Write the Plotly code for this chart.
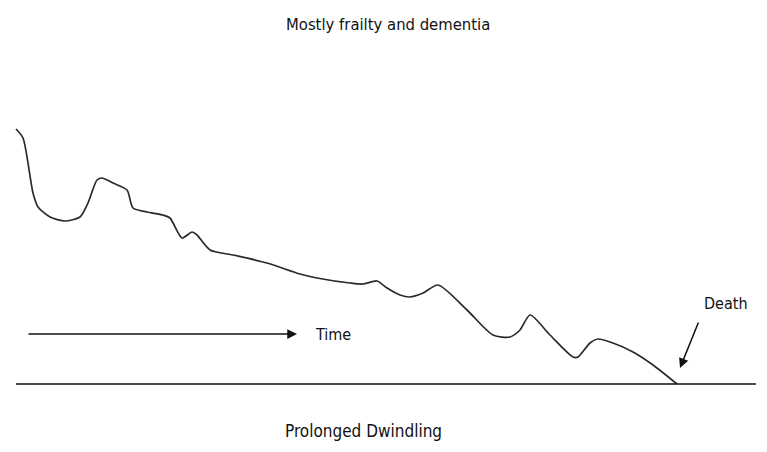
import plotly.graph_objects as go

# Trajectory of function over time (x: time units, y: function level above the death baseline)
time_x = [16, 23, 33, 38, 50, 65, 80, 88, 97, 102, 113, 127, 133, 147, 163, 170, 182, 192, 197,
          210, 233, 267, 300, 317, 350, 363, 377, 387, 400, 410, 423, 438, 467, 493, 510, 520,
          530, 550, 573, 578, 590, 598, 613, 633, 653, 677]
function_y = [255, 246, 191, 177, 167, 163, 167, 181, 204, 206, 201, 194, 176, 172, 169, 166, 146,
              152, 149, 134, 129, 121, 110, 106, 101, 100, 103, 96, 89, 87, 91, 99, 74, 49, 47, 54,
              69, 49, 27, 27, 41, 45, 41, 32, 19, 0]

baseline_x = [16, 756]
baseline_y = [0, 0]

title_text = "Mostly frailty and dementia"
bottom_text = "Prolonged Dwindling"
time_label = "Time"
death_label = "Death"

FONT = "DejaVu Sans Condensed, Liberation Sans Narrow, sans-serif"
TEXT_COLOR = "#111111"

fig = go.Figure()
fig.add_trace(go.Scatter(x=time_x, y=function_y, mode="lines",
                         line=dict(color="#2a2a2a", width=1.7, shape="spline", smoothing=0.7),
                         hoverinfo="skip", showlegend=False))
fig.add_trace(go.Scatter(x=baseline_x, y=baseline_y, mode="lines",
                         line=dict(color="#111111", width=1.7),
                         hoverinfo="skip", showlegend=False))

# Time arrow
fig.add_annotation(x=297, y=50, ax=27, ay=50, xref="x", yref="y", axref="x", ayref="y",
                   text="", showarrow=True, arrowhead=2, arrowsize=1.3, arrowwidth=1.5,
                   arrowcolor="#111111")
fig.add_annotation(x=313, y=50, xref="x", yref="y", text=time_label, showarrow=False,
                   xanchor="left", font=dict(family=FONT, size=16, color=TEXT_COLOR))

# Death arrow
fig.add_annotation(x=680, y=16, ax=699, ay=63, xref="x", yref="y", axref="x", ayref="y",
                   text="", showarrow=True, arrowhead=2, arrowsize=1.3, arrowwidth=1.5,
                   arrowcolor="#111111")
fig.add_annotation(x=726, y=81, xref="x", yref="y", text=death_label, showarrow=False,
                   font=dict(family=FONT, size=16, color=TEXT_COLOR))

fig.add_annotation(x=388, y=360, xref="x", yref="y", text=title_text, showarrow=False,
                   font=dict(family=FONT, size=16.5, color=TEXT_COLOR))
fig.add_annotation(x=363, y=-47, xref="x", yref="y", text=bottom_text, showarrow=False,
                   font=dict(family=FONT, size=17, color=TEXT_COLOR))

# The page body has an 8px margin, so the figure is shrunk and the ranges offset to compensate
fig.update_layout(width=759, height=444, margin=dict(l=0, r=0, t=0, b=0),
                  paper_bgcolor="white", plot_bgcolor="white")
fig.update_xaxes(range=[8, 767], visible=False, fixedrange=True)
fig.update_yaxes(range=[-68, 376], visible=False, fixedrange=True)

fig.write_html("out.html")
